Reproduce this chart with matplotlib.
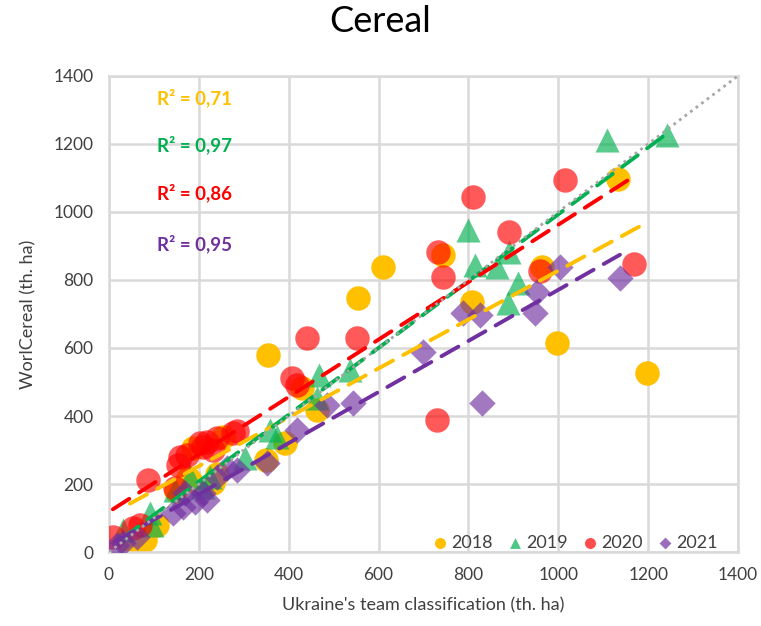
import matplotlib.pyplot as plt
import numpy as np

plt.rcParams['font.family'] = ['Lato', 'DejaVu Sans']

# --- data (th. ha) ---
x_2018 = [47, 80, 107, 150, 176, 180, 187, 232, 254, 240, 350, 392, 430, 463,
          354, 555, 610, 744, 808, 964, 997, 1133, 1197]
y_2018 = [12, 35, 79, 180, 218, 212, 306, 203, 338, 230, 270, 322, 482, 418,
          579, 747, 838, 874, 735, 838, 615, 1097, 526]

x_2019 = [31, 91, 96, 147, 180, 209, 225, 303, 358, 374, 463, 468, 537,
          799, 815, 864, 890, 910, 888, 1109, 1242]
y_2019 = [65, 115, 79, 182, 221, 191, 221, 276, 359, 338, 453, 522, 535,
          947, 844, 838, 882, 791, 732, 1212, 1226]

x_2020 = [9, 53, 69, 87, 147, 154, 158, 174, 203, 209, 218, 232, 240, 276, 285,
          407, 418, 441, 552, 730, 732, 743, 810, 890, 959, 1015, 1169]
y_2020 = [44, 71, 79, 212, 188, 256, 279, 285, 320, 309, 324, 300, 335, 350, 355,
          512, 491, 629, 629, 388, 882, 809, 1044, 941, 826, 1094, 847]

x_2021 = [18, 31, 62, 143, 165, 169, 191, 209, 218, 240, 263, 285, 352, 418,
          485, 544, 699, 788, 826, 830, 953, 948, 1004, 1137]
y_2021 = [21, 26, 44, 115, 132, 174, 147, 174, 153, 221, 247, 241, 262, 359,
          432, 438, 588, 703, 697, 438, 765, 703, 838, 806]

years = ['2018', '2019', '2020', '2021']
r2_labels = ['R² = 0,71', 'R² = 0,97', 'R² = 0,86', 'R² = 0,95']

colors = ['#FFC000', '#00B050', '#FF0000', '#7030A0']
markers = ['o', '^', 'o', 'D']
sizes = [310, 300, 310, 180]
alphas = [1.0, 0.65, 0.65, 0.65]

xs = [x_2018, x_2019, x_2020, x_2021]
ys = [y_2018, y_2019, y_2020, y_2021]

fig = plt.figure(figsize=(7.61, 6.26), dpi=100)
ax = fig.add_axes([0.143, 0.118, 0.827, 0.761])

for i in range(4):
    ax.scatter(xs[i], ys[i], s=sizes[i], marker=markers[i], color=colors[i],
               alpha=alphas[i], linewidths=0, zorder=2 + i, label=years[i])

# linear trendlines
for i in range(4):
    x = np.array(xs[i], dtype=float)
    y = np.array(ys[i], dtype=float)
    k, b = np.polyfit(x, y, 1)
    xx = np.array([x.min(), x.max()])
    ax.plot(xx, k * xx + b, color=colors[i], lw=2.8, dashes=(5, 3),
            solid_capstyle='round', dash_capstyle='round', zorder=8)

# 1:1 line
ax.plot([0, 1400], [0, 1400], color='#A6A6A6', lw=2, linestyle=(0, (1, 1.5)),
        zorder=9)

ax.set_xlim(0, 1400)
ax.set_ylim(0, 1400)
ax.set_xticks(np.arange(0, 1401, 200))
ax.set_yticks(np.arange(0, 1401, 200))
ax.grid(True, color='#D9D9D9', lw=1.8)
ax.set_axisbelow(True)
for s in ax.spines.values():
    s.set_color('#D9D9D9')
    s.set_linewidth(1.8)
ax.tick_params(length=0, labelsize=12.5, colors='#404040')
ax.tick_params(axis='x', pad=11)
ax.tick_params(axis='y', pad=11)

for i in range(4):
    ax.text(0.076, [0.954, 0.855, 0.754, 0.647][i], r2_labels[i],
            transform=ax.transAxes, color=colors[i], fontsize=13.5,
            fontweight='bold', va='center', ha='left')

fig.suptitle('Cereal', fontsize=26, x=0.5, y=0.965, va='center')
ax.set_xlabel("Ukraine's team classification (th. ha)", fontsize=13,
              color='#404040', labelpad=10)
ax.set_ylabel('WorlCereal (th. ha)', fontsize=13, color='#404040',
              labelpad=12)

leg = ax.legend(loc='lower right', bbox_to_anchor=(0.985, -0.02), ncol=4,
                frameon=False, fontsize=13, handletextpad=0.05,
                columnspacing=0.6, handlelength=1.2, markerscale=0.45,
                borderaxespad=0.2)
for h, a in zip(leg.legend_handles, [1.0, 0.7, 0.7, 0.7]):
    h.set_alpha(a)
for t in leg.get_texts():
    t.set_color('#404040')

fig.savefig('out.png')
